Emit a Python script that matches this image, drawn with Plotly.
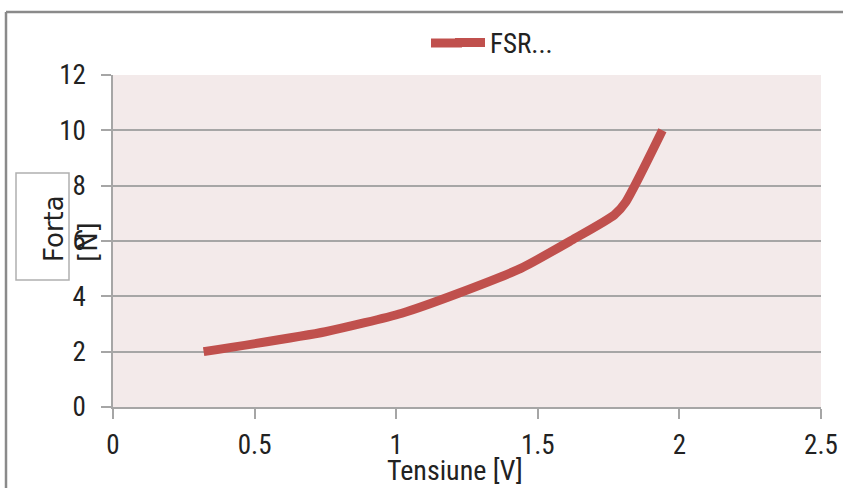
import plotly.graph_objects as go

# Data
tensiune = [0.32, 0.75, 1.02, 1.22, 1.44, 1.62, 1.77, 1.81, 1.94]
forta = [2.0, 2.72, 3.39, 4.11, 5.01, 6.03, 6.94, 7.4, 10.0]
series_name = "FSR..."
x_title = "Tensiune [V]"
y_title = "Forta<br>[N]"

NARROW = "Liberation Sans Narrow, Arial Narrow, Roboto Condensed, Liberation Sans, sans-serif"
WIDE = "DejaVu Sans, Verdana, sans-serif"
GRID = "#a6a6a6"
TXT = "#222222"
RED = "#c0504d"

W, H = 843, 488
# plot area in page pixels
PL, PR, PT, PB = 113, 821, 75, 407
L, R, T, B = PL, W - PR, PT, H - PB
pw, ph = PR - PL, PB - PT

def px_x(p):
    return (p - PL) / pw

def px_y(p):
    return (PB - p) / ph

fig = go.Figure()
fig.add_trace(go.Scatter(
    x=tensiune, y=forta, mode="lines", name=series_name,
    line=dict(color=RED, width=9, shape="spline", smoothing=0.6),
))

fig.update_layout(
    width=W, height=H,
    margin=dict(l=L, r=R, t=T, b=B, autoexpand=False),
    paper_bgcolor="white",
    plot_bgcolor="#f3eaea",
    font=dict(family=NARROW, size=27, color=TXT),
    showlegend=True,
    legend=dict(orientation="h", x=px_x(450), y=px_y(43), xanchor="left", yanchor="middle",
                font=dict(size=27, family=NARROW), bgcolor="rgba(0,0,0,0)",
                borderwidth=0),
    xaxis=dict(range=[0, 2.5], dtick=0.5, showgrid=False, zeroline=False,
               showline=True, linecolor=GRID, linewidth=1.5,
               ticks="outside", ticklen=10, tickcolor=GRID, tickwidth=1.5,
               tickfont=dict(size=27), ticklabelstandoff=3),
    yaxis=dict(range=[0, 12], dtick=2, showgrid=True, gridcolor=GRID, gridwidth=1.5,
               zeroline=False, showline=True, linecolor=GRID, linewidth=1.5,
               ticks="outside", ticklen=10, tickcolor=GRID, tickwidth=1.5,
               tickfont=dict(size=27), ticklabelstandoff=10),
)

# Legend swatch extension (reference swatch is longer than plotly's)
fig.add_shape(type="line", xref="paper", yref="paper",
              x0=px_x(431), x1=px_x(462), y0=px_y(43), y1=px_y(43),
              line=dict(color=RED, width=9))

# X-axis title
fig.add_annotation(xref="paper", yref="paper", x=px_x(455), y=px_y(452),
                   text=x_title, showarrow=False,
                   font=dict(family=NARROW, size=28, color=TXT),
                   xanchor="center", yanchor="top")

# Y-axis title box and rotated text
fig.add_shape(type="rect", xref="paper", yref="paper",
              x0=px_x(16), x1=px_x(69), y0=px_y(280), y1=px_y(173),
              line=dict(color="#b0b0b0", width=1.5), fillcolor="rgba(0,0,0,0)")
fig.add_annotation(xref="paper", yref="paper", x=px_x(71), y=px_y(229),
                   text=y_title, textangle=-90, showarrow=False, align="left",
                   font=dict(family=WIDE, size=26, color=TXT),
                   xanchor="center", yanchor="middle")

# Outer chart frame (left and top edges visible)
fig.add_shape(type="line", xref="paper", yref="paper",
              x0=px_x(6), x1=px_x(6), y0=px_y(520), y1=px_y(12),
              line=dict(color="#8a8a8a", width=2.5))
fig.add_shape(type="line", xref="paper", yref="paper",
              x0=px_x(6), x1=px_x(860), y0=px_y(12), y1=px_y(12),
              line=dict(color="#8a8a8a", width=2.5))

fig.write_html("out.html",
               config={"displayModeBar": False},
               post_script="document.body.style.margin='0';document.body.style.overflow='hidden';")
